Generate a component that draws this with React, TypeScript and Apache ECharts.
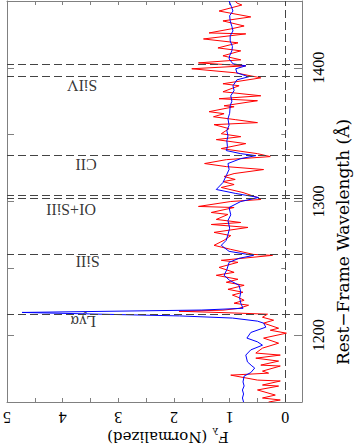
import React, { useEffect, useRef } from 'react';
import * as echarts from 'echarts';

// Red spectrum (wavelength in Å, normalized flux)
const redWave = [1450.0, 1448.5, 1447.0, 1442.5, 1438.1, 1435.1, 1431.3, 1429.1, 1426.1, 1425.4, 1421.6, 1418.7, 1414.9, 1412.7, 1409.0, 1406.0, 1403.7, 1401.5, 1399.3, 1396.3, 1392.5, 1388.1, 1386.6, 1382.1, 1379.1, 1376.9, 1375.4, 1371.6, 1370.9, 1367.2, 1365.7, 1363.4, 1361.2, 1359.0, 1357.5, 1354.5, 1350.7, 1348.5, 1346.3, 1343.3, 1339.6, 1335.8, 1333.6, 1331.3, 1328.4, 1326.1, 1323.9, 1320.9, 1318.7, 1316.5, 1314.9, 1312.7, 1310.5, 1306.7, 1303.0, 1301.5, 1300.0, 1296.3, 1295.5, 1291.8, 1290.3, 1286.6, 1284.3, 1282.8, 1280.6, 1276.9, 1274.5, 1271.0, 1267.2, 1264.2, 1260.4, 1259.7, 1256.0, 1254.5, 1250.7, 1247.0, 1244.8, 1241.8, 1239.6, 1237.3, 1234.3, 1232.1, 1230.0, 1228.4, 1226.1, 1223.9, 1222.4, 1220.1, 1218.7, 1217.9, 1216.6, 1215.7, 1213.4, 1211.2, 1209.0, 1205.2, 1203.7, 1201.5, 1197.8, 1194.0, 1190.3, 1186.6, 1185.1, 1182.8, 1180.6, 1177.6, 1176.9, 1173.1, 1171.6, 1170.1, 1166.4, 1165.7, 1162.7, 1161.9, 1159.0, 1155.2, 1153.0, 1151.5, 1150.0];
const redFlux = [0.90, 0.87, 0.78, 1.19, 0.62, 1.12, 0.74, 0.98, 1.37, 0.71, 1.47, 0.85, 1.21, 0.80, 1.12, 0.80, 1.56, 0.71, 1.68, 0.90, 0.44, 1.12, 0.83, 1.12, 0.44, 1.19, 0.50, 1.10, 0.92, 1.37, 1.10, 1.29, 0.89, 0.50, 1.28, 1.01, 1.15, 0.80, 1.24, 0.71, 1.15, 0.50, 0.27, 1.06, 1.45, 1.06, 0.39, 0.92, 1.10, 0.90, 1.12, 0.92, 1.15, 0.76, 0.50, 0.44, 0.98, 1.56, 0.92, 1.33, 1.03, 1.24, 0.80, 1.33, 0.67, 1.28, 0.98, 1.10, 1.28, 0.98, 0.57, 0.23, 1.15, 0.85, 1.19, 0.92, 1.24, 0.85, 1.06, 0.74, 1.03, 0.76, 0.95, 0.85, 0.74, 0.92, 0.66, 0.83, 1.12, 1.91, 0.92, 0.32, 0.41, 0.21, 0.39, 0.12, 0.27, -0.02, 0.39, 0.12, 0.41, 0.53, 0.09, 0.53, 0.12, 0.44, 0.09, 0.41, 0.30, 0.98, 0.50, 0.09, 0.41, 0.12, 0.50, 0.18, 0.41, 0.09, 0.30];

// Blue spectrum
const blueWave = [1450.0, 1446.0, 1442.5, 1439.0, 1435.1, 1431.0, 1427.6, 1424.0, 1420.1, 1416.0, 1412.7, 1409.0, 1406.7, 1403.0, 1401.5, 1399.3, 1396.3, 1393.3, 1391.0, 1386.6, 1383.0, 1379.1, 1375.0, 1371.6, 1366.0, 1361.9, 1357.0, 1353.0, 1349.0, 1345.5, 1341.0, 1338.1, 1335.8, 1334.3, 1332.1, 1328.4, 1324.0, 1319.4, 1314.2, 1309.0, 1306.0, 1303.0, 1300.0, 1295.5, 1290.0, 1285.8, 1280.0, 1275.4, 1271.0, 1267.2, 1262.7, 1259.7, 1257.5, 1254.5, 1249.0, 1244.8, 1241.0, 1237.3, 1232.1, 1228.0, 1223.9, 1220.1, 1218.8, 1217.0, 1214.4, 1212.8, 1210.5, 1209.0, 1206.0, 1202.0, 1197.8, 1195.0, 1192.5, 1189.0, 1185.1, 1180.0, 1177.0, 1175.4, 1172.0, 1169.4, 1165.0, 1162.0, 1159.0, 1156.0, 1153.0, 1150.0];
const blueFlux = [1.01, 0.97, 0.94, 1.00, 0.99, 0.96, 0.94, 0.99, 0.99, 0.95, 0.96, 1.00, 1.01, 0.94, 0.71, 0.89, 0.87, 0.66, 0.87, 0.94, 0.92, 0.98, 0.96, 0.99, 1.00, 1.03, 1.01, 1.05, 1.03, 1.05, 1.04, 1.06, 0.80, 0.53, 0.80, 1.03, 1.01, 1.06, 1.12, 1.24, 0.89, 0.48, 0.80, 1.01, 0.98, 1.03, 1.00, 1.03, 1.06, 1.15, 1.01, 0.57, 0.83, 1.01, 1.05, 1.10, 1.00, 0.83, 0.80, 0.82, 0.80, 0.76, 1.50, 4.73, 1.90, 0.95, 0.50, 0.39, 0.35, 0.62, 0.69, 0.50, 0.41, 0.62, 0.71, 0.68, 0.60, 0.55, 0.62, 0.74, 0.76, 0.74, 0.77, 0.75, 0.77, 0.75];

// Line identifications
const lineWaves = [1215.67, 1260.42, 1302.17, 1304.37, 1334.53, 1393.76, 1402.77];
const lineLabels = ['Lyα', 'SiII', 'OI+SiII', 'CII', 'SiIV'];
const labelWave = [1210.0, 1255.2, 1294.0, 1327.6, 1386.6];
const labelFlux = [3.63, 3.55, 3.85, 3.58, 3.65];

// Ticks
const fluxTicks = [0, 1, 2, 3, 4, 5];
const fluxMinorTicks = [0, 0.5, 1, 1.5, 2, 2.5, 3, 3.5, 4, 4.5, 5];
const waveTicks = [1200, 1300, 1400];
const waveMinorTicks = [1250, 1350];
const waveLeftTicks = [1200, 1250, 1300, 1350, 1400];

const FRAME = '#808080';
const SERIF = 'Liberation Serif';

export default function App() {
  const ref = useRef<HTMLDivElement>(null);
  useEffect(() => {
    if (!ref.current) return;
    const chart = echarts.init(ref.current, null, { renderer: 'svg' });
    const frameLine = { show: true, onZero: false, lineStyle: { color: FRAME, width: 1 } };
    const tickStyle = { color: FRAME, width: 1 };
    const plain = (v: number) => String(v);
    const option: any = {
      animation: false,
      backgroundColor: '#fff',
      grid: { left: 3, right: 52, top: 1, bottom: 46, containLabel: false },
      xAxis: [
        {
          type: 'value', min: -0.3, max: 5, inverse: true, position: 'bottom',
          axisLine: frameLine,
          axisTick: { show: true, inside: true, length: 4, customValues: fluxMinorTicks, lineStyle: tickStyle },
          axisLabel: { show: true, customValues: fluxTicks, formatter: plain, rotate: 180, margin: 7, fontFamily: SERIF, fontSize: 16, color: '#000' },
          splitLine: { show: false },
        },
        {
          type: 'value', min: -0.3, max: 5, inverse: true, position: 'top',
          axisLine: frameLine,
          axisTick: { show: true, inside: true, length: 4, customValues: fluxMinorTicks, lineStyle: tickStyle },
          axisLabel: { show: false },
          splitLine: { show: false },
        },
      ],
      yAxis: [
        {
          type: 'value', min: 1150, max: 1450, position: 'right',
          axisLine: frameLine,
          axisTick: { show: true, inside: true, length: 8, customValues: waveTicks, lineStyle: tickStyle },
          axisLabel: { show: true, customValues: waveTicks, formatter: plain, rotate: 90, margin: 8, fontFamily: SERIF, fontSize: 16, color: '#000' },
          splitLine: { show: false },
        },
        {
          type: 'value', min: 1150, max: 1450, position: 'right',
          axisLine: { show: false },
          axisTick: { show: true, inside: true, length: 4, customValues: waveMinorTicks, lineStyle: tickStyle },
          axisLabel: { show: false },
          splitLine: { show: false },
        },
        {
          type: 'value', min: 1150, max: 1450, position: 'left',
          axisLine: frameLine,
          axisTick: { show: true, inside: true, length: 7, customValues: waveLeftTicks, lineStyle: tickStyle },
          axisLabel: { show: false },
          splitLine: { show: false },
        },
      ],
      series: [
        {
          type: 'line', name: 'red', xAxisIndex: 0, yAxisIndex: 0,
          data: redWave.map((w, i) => [redFlux[i], w]),
          showSymbol: false, symbol: 'none',
          lineStyle: { color: '#ff0000', width: 1 },
          z: 2,
          markLine: {
            silent: true, symbol: ['none', 'none'],
            label: { show: false },
            lineStyle: { color: '#444', width: 1, type: [8, 4] },
            data: [...lineWaves.map((w) => ({ yAxis: w })), { xAxis: 0 }],
          },
        },
        {
          type: 'line', name: 'blue', xAxisIndex: 0, yAxisIndex: 0,
          data: blueWave.map((w, i) => [blueFlux[i], w]),
          showSymbol: false, symbol: 'none',
          lineStyle: { color: '#0000ff', width: 1 },
          z: 3,
        },
        {
          type: 'scatter', xAxisIndex: 0, yAxisIndex: 0, symbolSize: 0, silent: true,
          data: lineLabels.map((n, i) => ({ name: n, value: [labelFlux[i], labelWave[i]] })),
          label: {
            show: true, position: 'inside', formatter: '{b}', rotate: 180,
            fontFamily: SERIF, fontSize: 16, color: '#000',
          },
        },
      ],
      graphic: [
        {
          type: 'text', x: 168, y: 435, rotation: Math.PI,
          style: {
            text: '{f|F}{s|λ}{n| (Normalized)}',
            align: 'center', verticalAlign: 'middle',
            textAlign: 'center', textVerticalAlign: 'middle',
            fill: '#000',
            rich: {
              f: { fontFamily: 'DejaVu Serif', fontSize: 15, lineHeight: 19, verticalAlign: 'top' },
              s: { fontFamily: 'DejaVu Serif', fontSize: 10, lineHeight: 10, verticalAlign: 'top', padding: [8, 0, 0, 0] },
              n: { fontFamily: 'DejaVu Serif', fontSize: 15, lineHeight: 19, verticalAlign: 'top' },
            },
          },
        },
        {
          type: 'text', x: 343, y: 242, rotation: Math.PI / 2,
          style: {
            text: 'Rest−Frame Wavelength (Å)',
            align: 'center', verticalAlign: 'middle',
            textAlign: 'center', textVerticalAlign: 'middle',
            font: '17px "DejaVu Serif"', fill: '#000',
          },
        },
      ],
    };
    chart.setOption(option);
    return () => chart.dispose();
  }, []);
  return <div ref={ref} style={{ position: 'absolute', left: 0, top: 0, width: 354, height: 448 }} />;
}
